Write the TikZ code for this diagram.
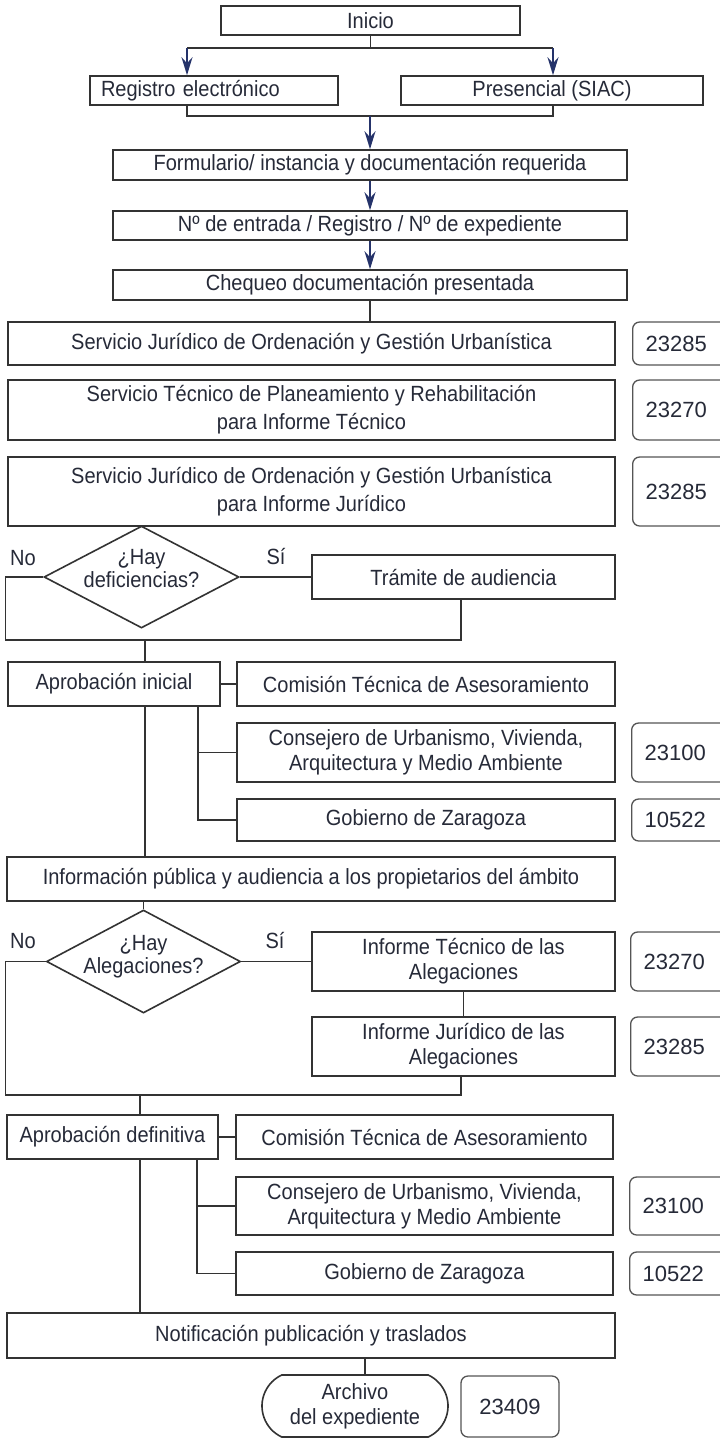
\documentclass[tikz,border=0pt]{standalone}
\usepackage{fontspec}
\setmainfont{Liberation Sans}[FakeStretch=0.91]
\newfontfamily\numfont{Liberation Sans}
\usetikzlibrary{arrows.meta,shapes.geometric,shapes.misc}
\definecolor{linec}{HTML}{333333}
\definecolor{txtc}{HTML}{262A38}
\definecolor{navy}{HTML}{25336A}
\definecolor{numline}{HTML}{555555}
\newcommand\fsn{\fontsize{22}{25}\selectfont}
\newcommand\fsw{\fontsize{22}{28}\selectfont}
\newcommand\fsd{\fontsize{22}{23}\selectfont}
\newcommand\fsnum{\numfont\fontsize{22}{26}\selectfont}

\begin{document}
\begin{tikzpicture}[x=1pt,y=-1pt,
  box/.style={draw=linec, line width=1.6pt, fill=white, inner sep=0pt,
              text=txtc, font=\fsn, align=center},
  bx/.style n args={2}{box, minimum width=#1, minimum height=#2},
  numbox/.style={draw=numline, line width=1.3pt, rounded corners=7pt, fill=white,
              inner sep=0pt, inner xsep=13pt, text width=100pt, align=left,
              anchor=west, minimum height=#1, text=txtc, font=\fsnum},
  dia/.style n args={2}{draw=linec, line width=1.6pt, diamond, inner sep=0pt,
              minimum width=#1, minimum height=#2},
  dtext/.style={text=txtc, font=\fsd, align=center, inner sep=0pt},
  lbl/.style={text=txtc, font=\fsn, inner sep=0pt},
  ln/.style={draw=linec, line width=1.6pt},
  arr/.style={draw=navy, line width=1.7pt, -{Stealth[length=18pt,width=11pt,inset=6pt]}}
]
\clip (0,0) rectangle (720,1438);
\fill[white] (0,0) rectangle (720,1438);

% --- entry and registration ---
\node[bx={299}{29}] (inicio) at (370.5,20.5) {Inicio};
\node[box, minimum height=29, inner xsep=11pt, text width=226pt, align=left] (reg) at (214,90.5) {Registro electrónico};
\node[bx={302}{29}] (pres) at (552,90.5) {Presencial (SIAC)};
\node[bx={514}{30}] (form) at (370,165) {Formulario/ instancia y documentación requerida};
\node[bx={514}{29}] (nro) at (370,225.5) {Nº de entrada / Registro / Nº de expediente};
\node[bx={514}{30}] (cheq) at (370,285) {Chequeo documentación presentada};

% --- services ---
\node[bx={607}{43}] (sj1) at (311.5,343.5) {Servicio Jurídico de Ordenación y Gestión Urbanística};
\node[bx={607}{60}, font=\fsw] (stp) at (311.5,410) {Servicio Técnico de Planeamiento y Rehabilitación\\para Informe Técnico};
\node[bx={607}{69}, font=\fsw] (sj2) at (311.5,491.5) {Servicio Jurídico de Ordenación y Gestión Urbanística\\para Informe Jurídico};
\node[numbox=43] (n1) at (632,343.5) {23285};
\node[numbox=60] (n2) at (632,410) {23270};
\node[numbox=69] (n3) at (632,491.5) {23285};

% --- first decision ---
\node[dia={195}{102}] (d1) at (141.5,577) {};
\node[dtext] (d1t) at (141.5,569) {¿Hay\\deficiencias?};
\node[lbl] (d1no) at (23,558) {No};
\node[lbl] (d1si) at (276,556) {Sí};
\node[bx={303}{44}] (tram) at (463.5,577) {Trámite de audiencia};

% --- initial approval ---
\node[bx={212}{44}] (ai) at (114,684) {Aprobación inicial};
\node[bx={378}{44}] (com1) at (426,684) {Comisión Técnica de Asesoramiento};
\node[bx={378}{59}] (con1) at (426,752.5) {Consejero de Urbanismo, Vivienda,\\Arquitectura y Medio Ambiente};
\node[bx={378}{42}] (gob1) at (426,820) {Gobierno de Zaragoza};
\node[numbox=59] (n4) at (631,752.5) {23100};
\node[numbox=42] (n5) at (631,820) {10522};

% --- public information ---
\node[bx={608}{44}] (info) at (311,879) {Información pública y audiencia a los propietarios del ámbito};
\node[dia={194}{103}] (d2) at (143.5,961.5) {};
\node[dtext] (d2t) at (143.5,956.5) {¿Hay\\Alegaciones?};
\node[lbl] (d2no) at (23,941) {No};
\node[lbl] (d2si) at (275,940) {Sí};
\node[bx={303}{59}] (it) at (463.5,961.5) {Informe Técnico de las\\Alegaciones};
\node[bx={303}{59}] (ij) at (463.5,1046.5) {Informe Jurídico de las\\Alegaciones};
\node[numbox=59] (n6) at (630,961.5) {23270};
\node[numbox=59] (n7) at (630,1046.5) {23285};

% --- final approval ---
\node[bx={211}{44}] (ad) at (112.5,1137) {Aprobación definitiva};
\node[bx={377}{44}] (com2) at (424.5,1137) {Comisión Técnica de Asesoramiento};
\node[bx={377}{58}] (con2) at (424.5,1206) {Consejero de Urbanismo, Vivienda,\\Arquitectura y Medio Ambiente};
\node[bx={377}{43}] (gob2) at (424.5,1273.5) {Gobierno de Zaragoza};
\node[numbox=58] (n8) at (629,1206) {23100};
\node[numbox=43] (n9) at (629,1273.5) {10522};

% --- closing ---
\node[bx={608}{45}] (notif) at (311,1335.5) {Notificación publicación y traslados};
\node[box, rounded rectangle, rounded rectangle arc length=130, minimum width=186, minimum height=62] (arch) at (355,1406) {Archivo\\del expediente};
\node[bx={98}{61}, draw=numline, line width=1.3pt, rounded corners=7pt, font=\fsnum] (n10) at (510,1406.5) {23409};

% --- connectors ---
\coordinate (jL) at (187,48);
\coordinate (jR) at (553,48);
\draw[ln] (inicio.south) |- (jL);
\draw[ln] (inicio.south) |- (jR);
\draw[arr] (jL) -- (jL |- reg.north);
\draw[arr] (jR) -- (jR |- pres.north);
\coordinate (mL) at (187,116);
\coordinate (mR) at (553,116);
\draw[ln] (mL |- reg.south) -- (mL) -- (mR) -- (mR |- pres.south);
\draw[arr] (form.north |- mL) -- (form.north);
\draw[arr] (form.south) -- (nro.north);
\draw[arr] (nro.south) -- (cheq.north);
\draw[ln] (cheq.south) -- (cheq.south |- sj1.north);

\draw[ln] (d1.east) -- (tram.west);
\coordinate (c1) at (5.5,640);
\coordinate (c2) at (461,640);
\draw[ln] (d1.west) -| (c1) -- (c2) -- (c2 |- tram.south);
\coordinate (v1) at (145,640);
\draw[ln] (v1) -- (v1 |- ai.north);
\draw[ln] (ai.east) -- (com1.west);
\coordinate (b1) at (198,706);
\draw[ln] (b1 |- ai.south) |- (gob1.west);
\draw[ln] (b1 |- con1.west) -- (con1.west);
\draw[ln] (v1 |- ai.south) -- (v1 |- info.north);

\draw[ln] (d2.north |- info.south) -- (d2.north);
\draw[ln] (d2.east) -- (it.west);
\draw[ln] (it.south) -- (ij.north);
\coordinate (c3) at (5.5,1095);
\coordinate (c4) at (461,1095);
\draw[ln] (d2.west) -| (c3) -- (c4) -- (c4 |- ij.south);
\coordinate (v2) at (140,1095);
\draw[ln] (v2) -- (v2 |- ad.north);
\draw[ln] (ad.east) -- (com2.west);
\coordinate (b2) at (197,1159);
\draw[ln] (b2 |- ad.south) |- (gob2.west);
\draw[ln] (b2 |- con2.west) -- (con2.west);
\draw[ln] (v2 |- ad.south) -- (v2 |- notif.north);
\draw[ln] ([xshift=10pt]arch.north |- notif.south) -- ([xshift=10pt]arch.north);
\end{tikzpicture}
\end{document}
